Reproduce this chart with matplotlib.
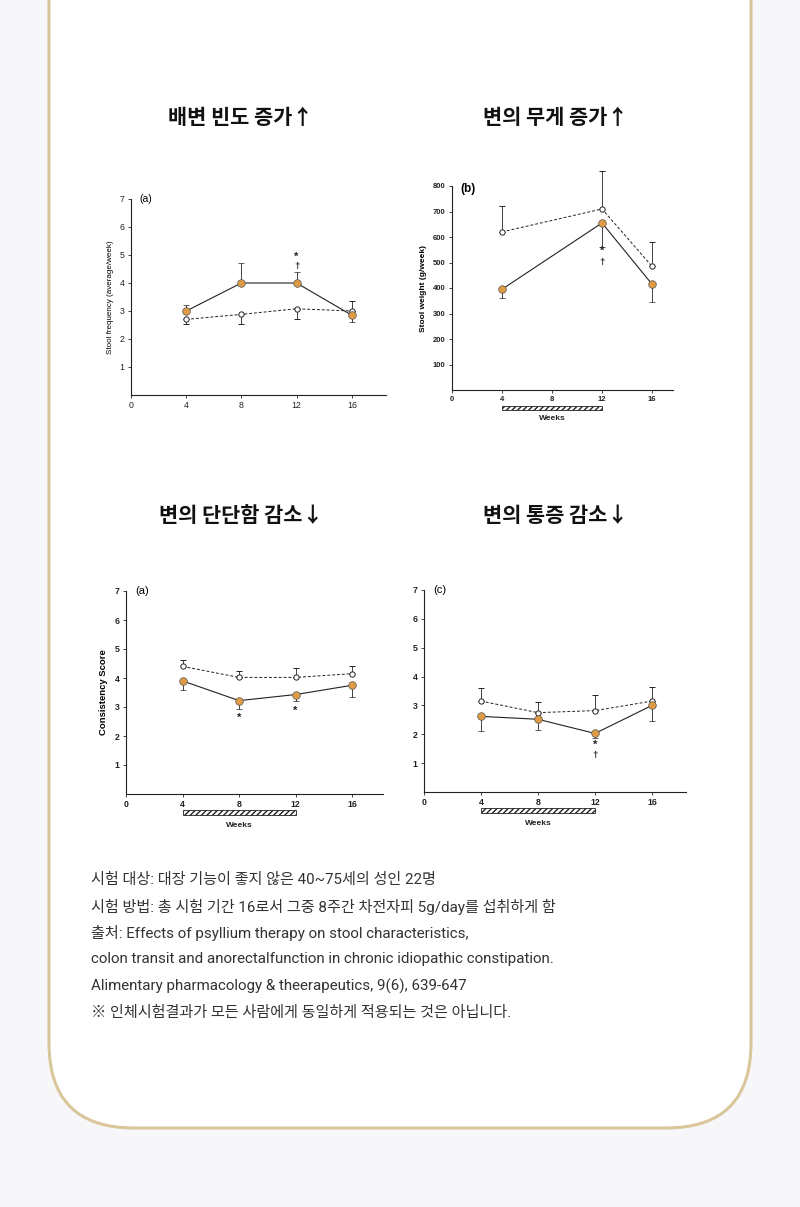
import matplotlib
matplotlib.use('Agg')
import matplotlib.pyplot as plt
from matplotlib.patches import FancyBboxPatch, Rectangle

W, H = 800, 1207
KR = ['Noto Sans CJK KR', 'DejaVu Sans']
NOTE_FONT = ['Roboto', 'Noto Sans CJK KR']
ORANGE = '#df9a44'
plt.rcParams['font.family'] = ['Liberation Sans', 'DejaVu Sans']

# ---- data ----
weeks = [4, 8, 12, 16]
weeks_w = [4, 12, 16]

# stool frequency (average/week)
freq_psyllium = [3.0, 4.0, 4.0, 2.85]
freq_psyllium_lo = [0, 0, 0, 0.25]
freq_psyllium_hi = [0.2, 0.7, 0.38, 0]
freq_placebo = [2.7, 2.88, 3.08, 3.0]
freq_placebo_lo = [0.15, 0.36, 0.36, 0]
freq_placebo_hi = [0, 0, 0, 0.35]

# stool weight (g/week)
weight_psyllium = [395, 655, 415]
weight_psyllium_lo = [35, 95, 70]
weight_placebo = [620, 710, 485]
weight_placebo_hi = [100, 150, 95]

# consistency score
cons_psyllium = [3.9, 3.22, 3.43, 3.75]
cons_psyllium_lo = [0.32, 0.3, 0.23, 0.4]
cons_placebo = [4.4, 4.02, 4.02, 4.15]
cons_placebo_hi = [0.22, 0.23, 0.33, 0.27]

# pain score
pain_psyllium = [2.62, 2.52, 2.03, 3.0]
pain_psyllium_lo = [0.5, 0.37, 0.15, 0.53]
pain_placebo = [3.15, 2.75, 2.82, 3.15]
pain_placebo_hi = [0.45, 0.37, 0.53, 0.5]

titles = ['배변 빈도 증가↑', '변의 무게 증가↑', '변의 단단함 감소↓', '변의 통증 감소↓']
notes = [
    '시험 대상: 대장 기능이 좋지 않은 40~75세의 성인 22명',
    '시험 방법: 총 시험 기간 16로서 그중 8주간 차전자피 5g/day를 섭취하게 함',
    '출처: Effects of psyllium therapy on stool characteristics,',
    'colon transit and anorectalfunction in chronic idiopathic constipation.',
    'Alimentary pharmacology & theerapeutics, 9(6), 639-647',
    '※ 인체시험결과가 모든 사람에게 동일하게 적용되는 것은 아닙니다.',
]

fig = plt.figure(figsize=(W / 100, H / 100), dpi=100)
fig.patch.set_facecolor('#f7f7f9')

# background card
bg = fig.add_axes([0, 0, 1, 1])
bg.set_xlim(0, W)
bg.set_ylim(H, 0)
bg.axis('off')
bg.add_patch(FancyBboxPatch((49, -400), 702, 1528,
                            boxstyle='round,pad=0,rounding_size=85',
                            facecolor='white', edgecolor='#d9c79b', linewidth=2.2))

for t, (x, y) in zip(titles, [(241, 118), (556, 118), (241, 515), (556, 515)]):
    bg.text(x, y, t, ha='center', va='center', fontsize=15, fontweight='bold',
            family=KR, color='#111111')

for i, line in enumerate(notes):
    bg.text(91, 880 + i * 26.5, line, ha='left', va='center', fontsize=10.9,
            family=NOTE_FONT, color='#333333')


def make_axes(x0, y0, ytop, px_per_x, xmax, ymax, bold=False):
    width = xmax * px_per_x
    ax = fig.add_axes([x0 / W, 1 - y0 / H, width / W, (y0 - ytop) / H])
    ax.set_xlim(0, xmax)
    ax.set_ylim(0, ymax)
    ax.patch.set_alpha(0)
    for s in ['top', 'right']:
        ax.spines[s].set_visible(False)
    for s in ['left', 'bottom']:
        ax.spines[s].set_linewidth(0.8)
        ax.spines[s].set_color('#222222')
    ax.set_xticks([0, 4, 8, 12, 16])
    ax.tick_params(direction='out', length=2.5, width=0.6, pad=2,
                   labelsize=6.3, colors='#222222')
    if bold:
        for lab in ax.get_xticklabels() + ax.get_yticklabels():
            lab.set_fontweight('bold')
    return ax


def draw_series(ax, x, psy, psy_lo, psy_hi, pla, pla_lo, pla_hi):
    ax.errorbar(x, pla, yerr=[pla_lo, pla_hi], fmt='o', ls='--', dashes=(3, 2),
                color='#222222', lw=0.7, elinewidth=0.6, capsize=2.2, capthick=0.6,
                ms=3.8, mfc='white', mec='#222222', mew=0.7, clip_on=False, zorder=3)
    ax.errorbar(x, psy, yerr=[psy_lo, psy_hi], fmt='o', ls='-',
                color='#222222', lw=0.8, elinewidth=0.6, capsize=2.2, capthick=0.6,
                ms=5.5, mfc=ORANGE, mec='#555555', mew=0.5, clip_on=False, zorder=4)


def mark(ax, x, y, s):
    ax.text(x, y, s, ha='center', va='center', fontsize=8 if s == '*' else 6.8,
            fontweight='bold', color='#222222')


def weeks_bar(ax, y, h, label_y):
    ax.add_patch(Rectangle((4, y), 8, h, facecolor='white', edgecolor='#222222',
                           hatch='//////', linewidth=0.6, clip_on=False))
    ax.text(8, label_y, 'Weeks', ha='center', va='center', fontsize=6,
            fontweight='bold', color='#222222', clip_on=False)


zeros4 = [0, 0, 0, 0]
zeros3 = [0, 0, 0]

# chart 1: stool frequency
ax1 = make_axes(131, 395, 199, 13.8, 18.5, 7)
ax1.set_yticks([1, 2, 3, 4, 5, 6, 7])
draw_series(ax1, weeks, freq_psyllium, freq_psyllium_lo, freq_psyllium_hi,
            freq_placebo, freq_placebo_lo, freq_placebo_hi)
ax1.set_ylabel('Stool frequency (average/week)', fontsize=5.8, labelpad=4)
ax1.text(0.6, 7, '(a)', fontsize=7.5, va='center')
mark(ax1, 12, 4.95, '*')
mark(ax1, 12, 4.6, '†')

# chart 2: stool weight
ax2 = make_axes(452, 390, 186, 12.5, 17.7, 800, bold=True)
ax2.set_yticks([100, 200, 300, 400, 500, 600, 700, 800])
ax2.tick_params(labelsize=5.5)
draw_series(ax2, weeks_w, weight_psyllium, weight_psyllium_lo, zeros3,
            weight_placebo, zeros3, weight_placebo_hi)
ax2.set_ylabel('Stool weight (g/week)', fontsize=6, fontweight='bold', labelpad=4)
ax2.text(0.7, 790, '(b)', fontsize=8.5, va='center', fontweight='bold')
mark(ax2, 12, 545, '*')
mark(ax2, 12, 500, '†')
weeks_bar(ax2, -77, 15, -110)

# chart 3: consistency
ax3 = make_axes(126, 794, 591, 14.14, 18.2, 7, bold=True)
ax3.set_yticks([1, 2, 3, 4, 5, 6, 7])
draw_series(ax3, weeks, cons_psyllium, cons_psyllium_lo, zeros4,
            cons_placebo, zeros4, cons_placebo_hi)
ax3.set_ylabel('Consistency Score', fontsize=6.8, fontweight='bold', labelpad=5)
ax3.text(0.65, 7, '(a)', fontsize=8, va='center')
mark(ax3, 8, 2.62, '*')
mark(ax3, 12, 2.88, '*')
weeks_bar(ax3, -0.73, 0.17, -1.1)

# chart 4: pain
ax4 = make_axes(424, 792, 590, 14.25, 18.4, 7, bold=True)
ax4.set_yticks([1, 2, 3, 4, 5, 6, 7])
draw_series(ax4, weeks, pain_psyllium, pain_psyllium_lo, zeros4,
            pain_placebo, zeros4, pain_placebo_hi)
ax4.text(0.65, 7, '(c)', fontsize=8, va='center')
mark(ax4, 12, 1.65, '*')
mark(ax4, 12, 1.25, '†')
weeks_bar(ax4, -0.73, 0.17, -1.1)

fig.savefig('out.png', dpi=100, facecolor=fig.get_facecolor())
